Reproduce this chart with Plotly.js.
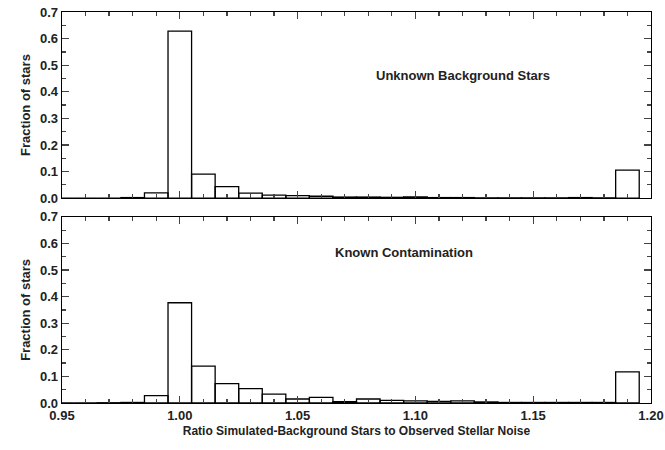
<!DOCTYPE html><html><head><script src="https://cdn.plot.ly/plotly-3.0.1.min.js"></script></head><body style="margin:0"><div id="c" style="width:665px;height:450px"></div><script>
const binCenters=[0.95,0.96,0.97,0.98,0.99,1.00,1.01,1.02,1.03,1.04,1.05,1.06,1.07,1.08,1.09,1.10,1.11,1.12,1.13,1.14,1.15,1.16,1.17,1.18,1.19];
const unknownVals=[0,0,0,0.002,0.02,0.628,0.09,0.043,0.019,0.011,0.009,0.007,0.004,0.004,0.003,0.005,0.002,0.002,0.001,0.001,0.001,0.001,0.002,0.001,0.105];
const knownVals=[0,0,0.001,0.002,0.028,0.377,0.139,0.073,0.054,0.033,0.015,0.021,0.005,0.015,0.01,0.008,0.006,0.008,0.004,0.002,0.002,0.002,0.002,0.002,0.117];
const yTickVals=[0,0.1,0.2,0.3,0.4,0.5,0.6,0.7];
const yTickText=['0.0','0.1','0.2','0.3','0.4','0.5','0.6','0.7'];
const xTickVals=[0.95,1.00,1.05,1.10,1.15,1.20];
const xTickText=['0.95','1.00','1.05','1.10','1.15','1.20'];
const bar=(y,ax)=>({type:'bar',x:binCenters,y:y,width:0.01,xaxis:ax[0],yaxis:ax[1],marker:{color:'rgba(0,0,0,0)',line:{color:'#000',width:1.3}},showlegend:false});
const f={family:'Liberation Sans, Arial, sans-serif',size:13,color:'#222',weight:'bold'};
const xa=(show,anchor)=>({range:[0.95,1.2],anchor:anchor,tickvals:xTickVals,ticktext:xTickText,showticklabels:show,ticklabeloverflow:'allow',ticks:'inside',ticklen:7,tickwidth:1.3,mirror:'ticks',showline:true,linecolor:'#000',linewidth:1.3,showgrid:false,zeroline:false,tickfont:f,minor:{dtick:0.01,tick0:0.95,ticks:'inside',ticklen:4,tickwidth:1.3}});
const ya=(dom,anchor)=>({domain:dom,anchor:anchor,range:[0,0.7],tickvals:yTickVals,ticktext:yTickText,ticks:'inside',ticklen:7,tickwidth:1.3,mirror:'ticks',showline:true,linecolor:'#000',linewidth:1.3,showgrid:false,zeroline:false,tickfont:f,minor:{dtick:0.05,ticks:'inside',ticklen:4,tickwidth:1.3},title:{text:'Fraction of stars',font:f,standoff:6}});
const X1=xa(false,'y'), X2=xa(true,'y2');
X2.title={text:'Ratio Simulated-Background Stars to Observed Stellar Noise',font:Object.assign({},f,{size:12}),standoff:4};
Plotly.newPlot('c',[bar(unknownVals,['x','y']),bar(knownVals,['x2','y2'])],{
width:665,height:450,margin:{l:62,r:14,t:12,b:47},bargap:0,plot_bgcolor:'#fff',paper_bgcolor:'#fff',
xaxis:X1,yaxis:ya([0.524,1],'x'),xaxis2:X2,yaxis2:ya([0,0.476],'x2'),
annotations:[{text:'Unknown Background Stars',xref:'x',yref:'y',x:1.12,y:0.46,showarrow:false,font:f},
{text:'Known Contamination',xref:'x2',yref:'y2',x:1.095,y:0.565,showarrow:false,font:f}]
},{staticPlot:true});
</script></body></html>
